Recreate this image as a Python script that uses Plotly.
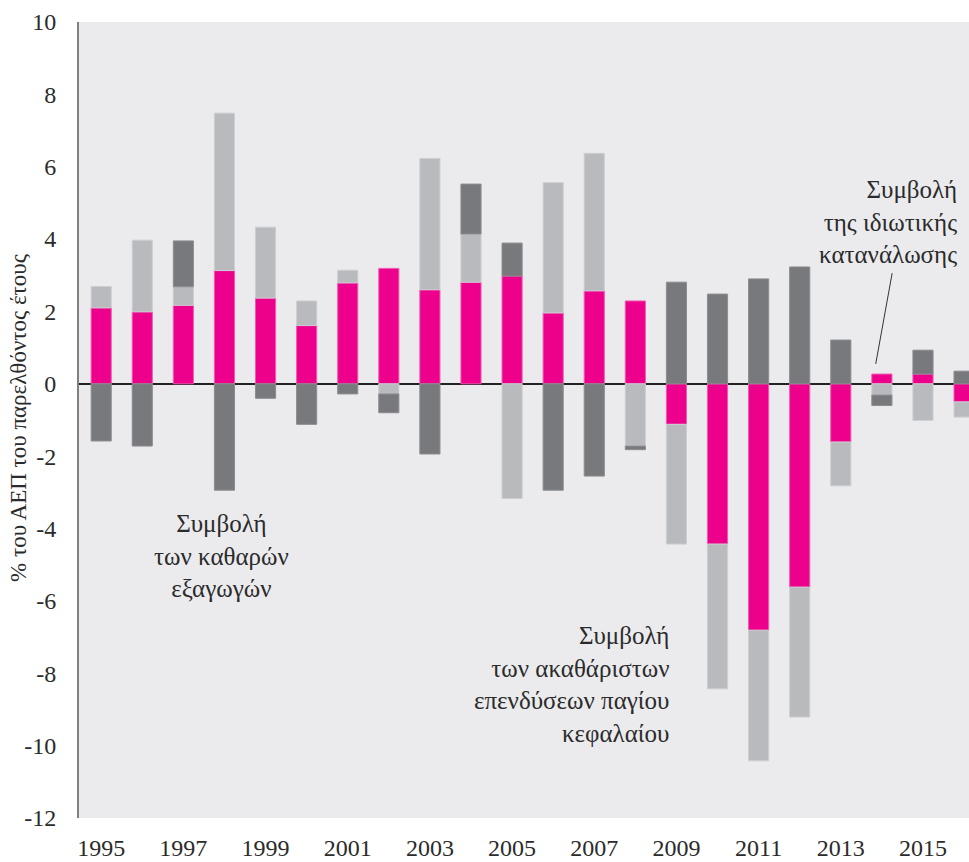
import plotly.graph_objects as go

years = list(range(1995, 2017))
consumption = [2.10, 1.99, 2.17, 3.13, 2.37, 1.61, 2.79, 3.19, 2.60, 2.81, 2.98,
               1.96, 2.57, 2.29, -1.12, -4.43, -6.81, -5.62, -1.61, 0.27, 0.27, -0.50]
investment = [0.59, 1.98, 0.51, 4.35, 1.96, 0.68, 0.35, -0.28, 3.63, 1.33, -3.17,
              3.60, 3.80, -1.72, -3.31, -4.00, -3.61, -3.59, -1.21, -0.31, -1.01, -0.42]
net_exports = [-1.58, -1.72, 1.27, -2.94, -0.40, -1.12, -0.28, -0.52, -1.94, 1.38, 0.91,
               -2.94, -2.55, -0.10, 2.81, 2.48, 2.90, 3.23, 1.21, -0.29, 0.66, 0.35]
tick_years = list(range(1995, 2016, 2))
y_ticks = list(range(-12, 11, 2))

FONT = "Liberation Serif"
TXT = "#2b2b2b"
PW = 890.0
PH = 796.0

fig = go.Figure()
fig.add_bar(x=years, y=consumption, name="Ιδιωτική κατανάλωση",
            marker=dict(color="#EC008C", line=dict(color="#F05AAE", width=1)), width=0.49)
fig.add_bar(x=years, y=investment, name="Επενδύσεις",
            marker=dict(color="#B9BABD", line=dict(color="#CDCED1", width=1)), width=0.49)
fig.add_bar(x=years, y=net_exports, name="Καθαρές εξαγωγές",
            marker=dict(color="#78797D", line=dict(color="#8C8D91", width=1)), width=0.49)

fig.update_layout(
    barmode="relative",
    width=969, height=862,
    margin=dict(l=79, r=0, t=22, b=44, autoexpand=False),
    paper_bgcolor="white",
    plot_bgcolor="#EBEBEE",
    showlegend=False,
    font=dict(family=FONT, color=TXT, size=22),
)
fig.update_xaxes(
    range=[1994.46, 2016.12], tickvals=tick_years, ticktext=[str(y) for y in tick_years],
    showgrid=False, zeroline=False, showline=False, ticks="", automargin=False,
    ticklabelstandoff=13, tickfont=dict(family=FONT, size=24, color=TXT),
)
fig.update_yaxes(
    range=[-12, 10], tickvals=y_ticks, ticktext=[str(v) for v in y_ticks],
    showgrid=False, zeroline=True, zerolinecolor="#222222", zerolinewidth=1.5,
    showline=True, linecolor="#808080", linewidth=2, ticks="", automargin=False,
    ticklabelstandoff=16, tickfont=dict(family=FONT, size=24, color=TXT),
)

fig.add_annotation(xref="paper", yref="paper", x=(18 - 79) / PW, y=(818 - 418) / PH,
                   text="% του ΑΕΠ του παρελθόντος έτους", textangle=-90,
                   showarrow=False, xanchor="center", yanchor="middle",
                   font=dict(family=FONT, size=23, color=TXT))

fig.add_annotation(xref="paper", yref="paper", x=(959 - 79) / PW, y=(818 - 222) / PH,
                   text="Συμβολή<br>της ιδιωτικής<br>κατανάλωσης",
                   showarrow=False, xanchor="right", yanchor="middle", align="right",
                   font=dict(family=FONT, size=25, color=TXT))
fig.add_annotation(xref="paper", yref="paper", x=(221 - 79) / PW, y=(818 - 556) / PH,
                   text="Συμβολή<br>των καθαρών<br>εξαγωγών",
                   showarrow=False, xanchor="center", yanchor="middle", align="center",
                   font=dict(family=FONT, size=25, color=TXT))
fig.add_annotation(xref="paper", yref="paper", x=(671 - 79) / PW, y=(818 - 684) / PH,
                   text="Συμβολή<br>των ακαθάριστων<br>επενδύσεων παγίου<br>κεφαλαίου",
                   showarrow=False, xanchor="right", yanchor="middle", align="right",
                   font=dict(family=FONT, size=25, color=TXT))
fig.add_shape(type="line", xref="x", yref="y", x0=2014.25, y0=3.06, x1=2013.85, y1=0.55,
              line=dict(color="#333333", width=1))

fig.write_html(
    "out.html",
    config={"displayModeBar": False},
    post_script="document.body.style.margin='0';document.body.style.overflow='hidden';",
)
